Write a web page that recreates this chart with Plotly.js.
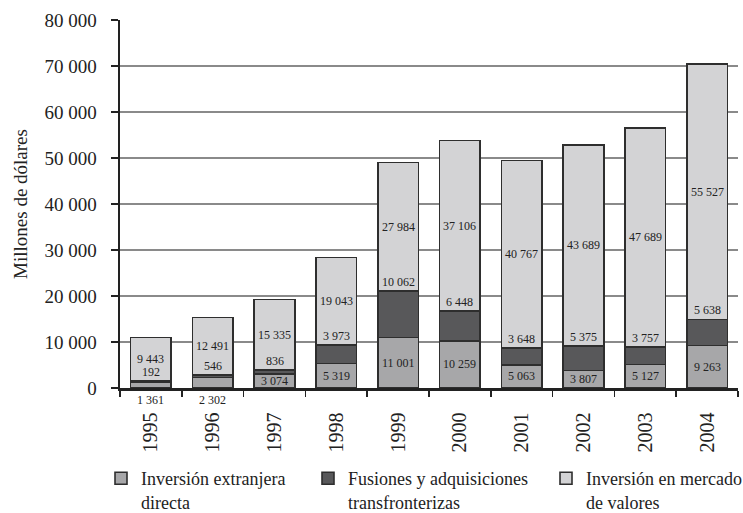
<!DOCTYPE html>
<html>
<head>
<meta charset="utf-8">
<script src="https://cdn.plot.ly/plotly-3.0.1.min.js"></script>
<style>html,body{margin:0;padding:0;background:#fff;}#chart{width:743px;height:513px;}</style>
</head>
<body>
<div id="chart"></div>
<script>
const years = ["1995","1996","1997","1998","1999","2000","2001","2002","2003","2004"];
const ied = [1361, 2302, 3074, 5319, 11001, 10259, 5063, 3807, 5127, 9263];
const fusiones = [192, 546, 836, 3973, 10062, 6448, 3648, 5375, 3757, 5638];
const mercado = [9443, 12491, 15335, 19043, 27984, 37106, 40767, 43689, 47689, 55527];
const seriesNames = ["Inversión extranjera<br>directa", "Fusiones y adquisiciones<br>transfronterizas", "Inversión en mercado<br>de valores"];
const colors = ["#a7a7a9", "#58585a", "#d3d3d5"];

const fontFam = "Liberation Serif, Times New Roman, serif";
const fmt = v => String(v).replace(/\B(?=(\d{3})+(?!\d))/g, " ");

const legendIds = ["legend", "legend2", "legend3"];
const line = {color: "#2e2e2e", width: 1.6};
const data = [ied, fusiones, mercado].map((vals, k) => ({
  type: "bar", x: years, y: vals, name: seriesNames[k],
  legend: legendIds[k],
  marker: {color: colors[k], line: line},
  hoverinfo: "skip"
}));

const ann = [];
const lblFont = {family: fontFam, size: 12, color: "#222"};
years.forEach((yr, i) => {
  const a = ied[i], b = fusiones[i], c = mercado[i];
  if (a < 2600) {
    ann.push({x: i, y: 0, xref: "x", yref: "y", text: fmt(a), showarrow: false, yanchor: "top", yshift: -3, font: lblFont});
  } else {
    ann.push({x: i, y: a / 2, xref: "x", yref: "y", text: fmt(a), showarrow: false, yanchor: "middle", font: lblFont});
  }
  ann.push({x: i, y: a + b, xref: "x", yref: "y", text: fmt(b), showarrow: false, yanchor: "bottom", yshift: 0, font: lblFont});
  ann.push({x: i, y: a + b + c / 2, xref: "x", yref: "y", text: fmt(c), showarrow: false, yanchor: "middle", font: lblFont});
});

function legendAt(px) {
  return {
    orientation: "h", xref: "container", yref: "container",
    x: px / 743, xanchor: "left", y: 1 - 460 / 513, yanchor: "top",
    font: {family: fontFam, size: 18, color: "#222"},
    valign: "top", itemclick: false, bgcolor: "rgba(0,0,0,0)"
  };
}

const layout = {
  width: 743, height: 513,
  margin: {l: 120, r: 5, t: 20, b: 125, autoexpand: false},
  paper_bgcolor: "#fff", plot_bgcolor: "#fff",
  separators: ", ",
  barmode: "stack",
  bargap: 0.34,
  font: {family: fontFam, color: "#222", size: 20},
  xaxis: {
    type: "category",
    range: [-0.5, 9.5],
    autorange: false,
    tickangle: -90,
    tickson: "boundaries",
    ticks: "outside", ticklen: 6, tickwidth: 1.5, tickcolor: "#222",
    showline: true, linecolor: "#222", linewidth: 2.5,
    showgrid: false,
    tickfont: {family: fontFam, size: 20, color: "#222"},
    ticklabelstandoff: 14
  },
  yaxis: {
    range: [0, 80000],
    autorange: false,
    dtick: 10000, tick0: 0,
    tickformat: ",d",
    ticks: "outside", ticklen: 7, tickwidth: 1.2, tickcolor: "#222",
    showline: true, linecolor: "#222", linewidth: 2.5,
    showgrid: true, gridcolor: "#8a8a8a", gridwidth: 1.2,
    zeroline: false,
    tickfont: {family: fontFam, size: 19, color: "#222"},
    ticklabelstandoff: 10,
    title: {text: "Millones de dólares", font: {family: fontFam, size: 19, color: "#222"}, standoff: 12}
  },
  showlegend: true,
  legend: legendAt(101),
  legend2: legendAt(308),
  legend3: legendAt(546),
  annotations: ann
};

Plotly.newPlot("chart", data, layout, {displayModeBar: false, staticPlot: true});
</script>
</body>
</html>
